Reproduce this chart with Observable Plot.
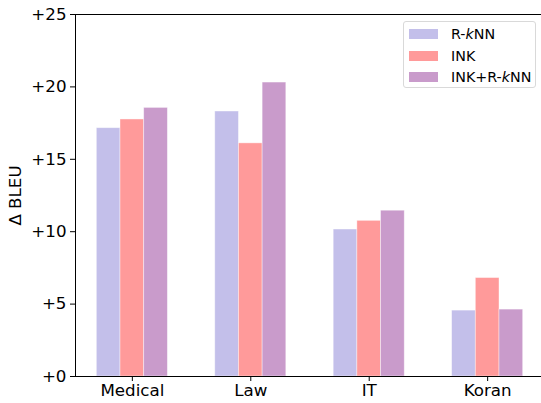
<!DOCTYPE html>
<html>
<head>
<meta charset="utf-8">
<script src="https://cdn.jsdelivr.net/npm/d3@7"></script>
<script src="https://cdn.jsdelivr.net/npm/@observablehq/plot@0.6"></script>
<style>
  html, body { margin: 0; padding: 0; background: #fff; }
  #wrap { position: relative; width: 541px; height: 403px; font-family: "DejaVu Sans", sans-serif; overflow: hidden; }
  #legend { position: absolute; left: 403px; top: 21px; width: 133px; height: 67px; border: 1px solid #d9d9d9; border-radius: 3px; background: rgba(255,255,255,0.8); box-sizing: border-box; }
  .row { position: absolute; left: 5px; height: 14px; display: flex; align-items: center; font-size: 14.3px; color: #000; white-space: nowrap; }
  .sw { width: 29px; height: 10px; margin-right: 13px; }
</style>
</head>
<body>
<div id="wrap"></div>
<script>
const categories = ["Medical", "Law", "IT", "Koran"];
const series = ["R-kNN", "INK", "INK+R-kNN"];
const seriesLabels = ["R-<i>k</i>NN", "INK", "INK+R-<i>k</i>NN"];
const colors = ["#c3bfea", "#ff9a9a", "#c99bcb"];
const rknn = [17.15, 18.3, 10.15, 4.55];
const ink = [17.75, 16.1, 10.75, 6.8];
const inkRknn = [18.55, 20.3, 11.45, 4.62];
const yTicks = [0, 5, 10, 15, 20, 25];

const values = [rknn, ink, inkRknn];
const barW = 0.2;
const rows = [];
categories.forEach((c, i) => {
  series.forEach((s, j) => {
    rows.push({cat: c, idx: i, series: s, sIdx: j, value: values[j][i]});
  });
});

const FS = 16.7;
const chart = Plot.plot({
  width: 541,
  height: 403,
  marginLeft: 75,
  marginRight: 0,
  marginTop: 14,
  marginBottom: 27,
  style: {fontFamily: "DejaVu Sans, sans-serif", fontSize: FS + "px", color: "#000", background: "#fff"},
  x: {type: "linear", domain: [-0.48, 3.48], range: [75, 544]},
  y: {domain: [0, 25]},
  color: {domain: series, range: colors},
  marks: [
    Plot.rectY(rows, {
      x1: d => d.idx + (d.sIdx - 1) * barW - barW / 2,
      x2: d => d.idx + (d.sIdx - 1) * barW + barW / 2,
      y1: 0,
      y2: "value",
      fill: "series",
      stroke: "white",
      strokeOpacity: 0.5,
      strokeWidth: 0.8
    }),
    Plot.axisY({
      ticks: yTicks,
      tickFormat: d => "+" + d,
      tickSize: 5,
      tickPadding: 4,
      fontSize: FS,
      label: "Δ BLEU",
      labelAnchor: "center",
      labelArrow: "none",
      labelOffset: 66
    }),
    Plot.axisX({
      ticks: d3.range(categories.length),
      tickFormat: d => categories[d],
      tickSize: 5,
      tickPadding: 3,
      fontSize: FS,
      label: null
    }),
    Plot.frame({anchor: "left", stroke: "#000", strokeWidth: 1}),
    Plot.frame({anchor: "top", stroke: "#000", strokeWidth: 1}),
    Plot.frame({anchor: "bottom", stroke: "#000", strokeWidth: 1})
  ]
});

const wrap = document.getElementById("wrap");
wrap.appendChild(chart);

const legend = document.createElement("div");
legend.id = "legend";
series.forEach((s, j) => {
  const row = document.createElement("div");
  row.className = "row";
  row.style.top = (5 + j * 21.5) + "px";
  row.innerHTML = `<span class="sw" style="background:${colors[j]}"></span><span>${seriesLabels[j]}</span>`;
  legend.appendChild(row);
});
wrap.appendChild(legend);
</script>
</body>
</html>
